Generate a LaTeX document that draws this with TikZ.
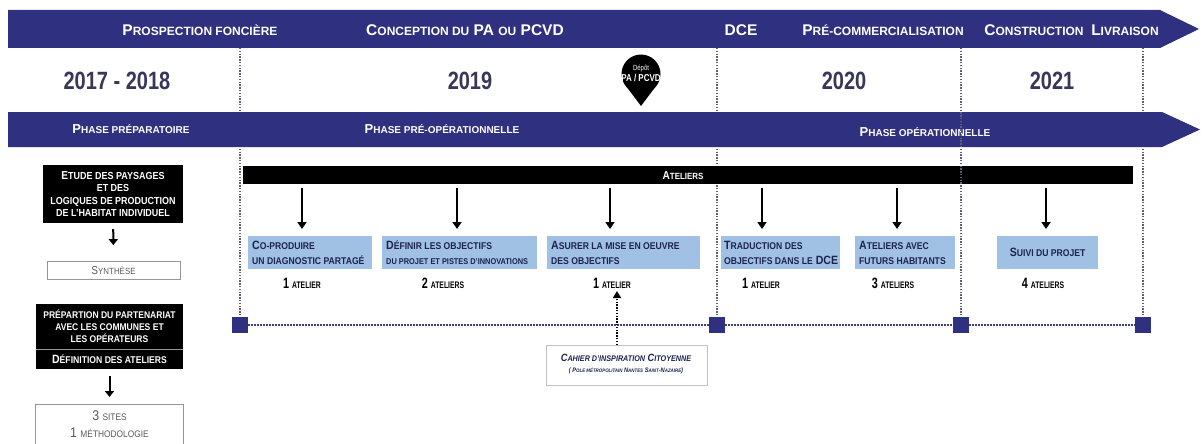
\documentclass[tikz,border=0pt]{standalone}
\usepackage{fontspec}
\setmainfont{Liberation Sans}
\newfontfamily\narrowA[FakeStretch=0.8]{Liberation Sans}
\newfontfamily\narrowB[FakeStretch=0.88]{Liberation Sans}
\newfontfamily\narrowC[FakeStretch=0.72]{Liberation Sans}
\usetikzlibrary{arrows.meta}
\definecolor{navy}{RGB}{48,48,128}
\definecolor{lblue}{RGB}{160,192,228}
\definecolor{yearc}{RGB}{55,55,90}
\definecolor{boxtxt}{RGB}{28,36,78}
\definecolor{dotc}{RGB}{95,95,120}
\definecolor{greytxt}{RGB}{90,90,90}
\definecolor{greyline}{RGB}{150,150,150}
\def\smsz{9}
\newcommand\sm[1]{{\fontsize{\smsz}{\smsz}\selectfont#1}}
\tikzset{
  bt/.style={text=white, inner sep=0, font=\bfseries\fontsize{15.5}{17}\selectfont\def\smsz{12}},
  yr/.style={text=yearc, inner sep=0, font=\narrowA\bfseries\fontsize{25}{28}\selectfont},
  ph/.style={text=white, inner sep=0, font=\bfseries\fontsize{13}{15}\selectfont\def\smsz{10}},
  vdot/.style={draw=dotc, line width=1.2pt, dash pattern=on 1.4pt off 1.4pt},
  hdot/.style={draw=navy!80!gray, line width=1.5pt, dash pattern=on 1.5pt off 1.5pt},
  sq/.style={fill=navy, minimum size=16, inner sep=0},
  darr/.style={draw=black, line width=2.2pt, -{Triangle[width=9pt,length=7pt]}},
  sarr/.style={draw=black, line width=2pt, -{Triangle[width=9pt,length=6pt]}},
  bbox/.style={fill=lblue, anchor=north west, minimum height=33, inner sep=0},
  btxt/.style={anchor=west, inner sep=0, align=left, text=boxtxt,
    font=\narrowB\bfseries\fontsize{12}{15.5}\selectfont\def\smsz{9.8}},
  cnt/.style={inner sep=0, text=black, font=\narrowC\bfseries\fontsize{15}{16}\selectfont\def\smsz{9.5}},
  blk/.style={fill=black, text=white, align=center, inner sep=0,
    font=\narrowB\bfseries\fontsize{11.5}{12.5}\selectfont\def\smsz{10.2}},
  gbox/.style={draw=greyline, line width=0.8pt, fill=white, text=greytxt, align=center, inner sep=0,
    font=\narrowB\fontsize{11.5}{14}\selectfont\def\smsz{9}},
}
\begin{document}
\begin{tikzpicture}[x=1pt,y=-1pt]
\fill[white] (0,0) rectangle (1203,444);
\useasboundingbox (0,0) rectangle (1203,444);

% squares and dotted time lines
\node[sq] (sq1) at (240,325) {};
\node[sq] (sq2) at (717,325) {};
\node[sq] (sq3) at (961,325) {};
\node[sq] (sq4) at (1143,325) {};
\coordinate (tp1) at (240,48);
\coordinate (tp2) at (717,48);
\coordinate (tp3) at (961,48);
\coordinate (tp4) at (1143,48);
\draw[vdot] (tp1) -- (sq1);
\draw[vdot] (tp2) -- (sq2);
\draw[vdot] (tp4) -- (sq4);
\draw[hdot] (sq1) -- (sq2) -- (sq3) -- (sq4);

% banners
\fill[navy] (8,10) -- (1160,10) -- (1199,29) -- (1160,48) -- (8,48) -- cycle;
\fill[navy] (8,112) -- (1162,112) -- (1200,129.5) -- (1162,147) -- (8,147) -- cycle;

\node[bt] (t1) at (200,30) {P\sm{ROSPECTION FONCIÈRE}};
\node[bt] (t2) at (465,30) {C\sm{ONCEPTION DU} PA \sm{OU} PCVD};
\node[bt] (t3) at (741,30) {DCE};
\node[bt] (t4) at (883,30) {P\sm{RÉ-COMMERCIALISATION}};
\node[bt] (t5) at (1034,30) {C\sm{ONSTRUCTION}};
\node[bt] (t6) at (1125,30) {L\sm{IVRAISON}};

\node[yr] (y1) at (117,81) {2017 - 2018};
\node[yr] (y2) at (470,81) {2019};
\node[yr] (y3) at (844,81) {2020};
\node[yr] (y4) at (1052,81) {2021};

\node[ph] (p1) at (131,129) {P\sm{HASE PRÉPARATOIRE}};
\node[ph] (p2) at (442,129) {P\sm{HASE PRÉ-OPÉRATIONNELLE}};
\node[ph] (p3) at (925,132) {P\sm{HASE OPÉRATIONNELLE}};

% pin
\fill[black] (641,74) circle (19.5);
\fill[black] (626,86) -- (641,106) -- (656,86) -- cycle;
\node[text=white, align=center, inner sep=0, font=\narrowA\bfseries\fontsize{10}{11}\selectfont] (pin) at (641,73)
  {{\mdseries\fontsize{7.5}{8}\selectfont Dépôt}\\PA / PCVD};

% ateliers bar
\node[fill=black, minimum width=890, minimum height=18, inner sep=0, anchor=north west] (bar) at (243,166) {};
\node[text=white, inner sep=0, font=\narrowB\bfseries\fontsize{11.5}{12}\selectfont\def\smsz{9}] (barl) at (683,175.5) {A\sm{TELIERS}};
\draw[vdot] (tp3) -- (sq3);

% blue boxes
\node[bbox, minimum width=124] (b1) at (248,236) {};
\node[bbox, minimum width=155] (b2) at (382,236) {};
\node[bbox, minimum width=153] (b3) at (547,236) {};
\node[bbox, minimum width=119] (b4) at (721,236) {};
\node[bbox, minimum width=100] (b5) at (855,236) {};
\node[bbox, minimum width=101] (b6) at (997,236) {};
\node[btxt] (b1t) at ([xshift=4pt]b1.west) {C\sm{O-PRODUIRE}\\\sm{UN DIAGNOSTIC PARTAGÉ}};
\node[btxt] (b2t) at ([xshift=4pt]b2.west) {D\sm{ÉFINIR LES OBJECTIFS}\\{\def\smsz{8.4}\sm{DU PROJET ET PISTES D’INNOVATIONS}}};
\node[btxt] (b3t) at ([xshift=4pt]b3.west) {A\sm{SURER LA MISE EN OEUVRE}\\\sm{DES OBJECTIFS}};
\node[btxt] (b4t) at ([xshift=3pt]b4.west) {T\sm{RADUCTION DES}\\\sm{OBJECTIFS DANS LE} DCE};
\node[btxt] (b5t) at ([xshift=4pt]b5.west) {A\sm{TELIERS AVEC}\\\sm{FUTURS HABITANTS}};
\node[btxt, anchor=center] (b6t) at (b6.center) {S\sm{UIVI DU PROJET}};

% arrows from the bar
\coordinate (a1) at (302,188);
\coordinate (a2) at (457,188);
\coordinate (a3) at (610,188);
\coordinate (a4) at (762,188);
\coordinate (a5) at (897,188);
\coordinate (a6) at (1046,188);
\draw[darr, shorten >=7pt] (a1) -- (a1 |- b1.north);
\draw[darr, shorten >=7pt] (a2) -- (a2 |- b2.north);
\draw[darr, shorten >=7pt] (a3) -- (a3 |- b3.north);
\draw[darr, shorten >=7pt] (a4) -- (a4 |- b4.north);
\draw[darr, shorten >=7pt] (a5) -- (a5 |- b5.north);
\draw[darr, shorten >=7pt] (a6) -- (a6 |- b6.north);

% counts
\node[cnt] (c1) at (302,283) {1 \sm{ATELIER}};
\node[cnt] (c2) at (443,283) {2 \sm{ATELIERS}};
\node[cnt] (c3) at (612,283) {1 \sm{ATELIER}};
\node[cnt] (c4) at (761,283) {1 \sm{ATELIER}};
\node[cnt] (c5) at (893,283) {3 \sm{ATELIERS}};
\node[cnt] (c6) at (1043,283) {4 \sm{ATELIERS}};

% cahier
\node[draw=greyline!60, line width=0.8pt, minimum width=161, minimum height=40, inner sep=0, anchor=north west] (cah) at (546,345) {};
\node[text=boxtxt, inner sep=0, font=\narrowB\bfseries\itshape\fontsize{10.5}{11}\selectfont\def\smsz{8.2}] (cah1) at (626,358)
  {C\sm{AHIER D’INSPIRATION} C\sm{ITOYENNE}};
\node[text=boxtxt, inner sep=0, font=\narrowB\bfseries\itshape\fontsize{6.5}{7}\selectfont\def\smsz{5}] (cah2) at (626,371)
  {( P\sm{OLE MÉTROPOLITAIN} N\sm{ANTES} S\sm{AINT}-N\sm{AZAIRE})};
\coordinate (cu) at (617,345);
\draw[draw=black, line width=1.8pt, dash pattern=on 1.5pt off 1.3pt, -{Triangle[width=8pt,length=7pt]}] (cu) -- (617,291);

% left column
\node[blk, minimum width=140, minimum height=58] (e1) at (113,194)
  {E\sm{TUDE DES PAYSAGES}\\\sm{ET DES}\\\sm{LOGIQUES DE PRODUCTION}\\\sm{DE L’HABITAT INDIVIDUEL}};
\node[gbox, minimum width=133, minimum height=18] (syn) at (113.5,270.5) {S\sm{YNTHÈSE}};
\draw[sarr, shorten <=6pt, shorten >=16pt] (e1) -- (syn);

\node[blk, minimum width=147, minimum height=45, anchor=north, font=\narrowB\bfseries\fontsize{9.7}{12}\selectfont] (prep) at (109.5,304)
  {PRÉPARTION DU PARTENARIAT\\AVEC LES COMMUNES ET\\LES OPÉRATEURS};
\node[blk, minimum width=147, minimum height=19, anchor=north, font=\narrowB\bfseries\fontsize{12}{12}\selectfont\def\smsz{9.8}] (defi) at (109.5,349.8)
  {D\sm{ÉFINITION DES ATELIERS}};
\draw[draw=greyline, line width=0.6pt] (prep.south west) -- (prep.south east);
\node[gbox, minimum width=148, minimum height=40, anchor=north, font=\narrowB\fontsize{14}{17}\selectfont\def\smsz{9.5}] (sites) at (109.5,404)
  {3 \sm{SITES}\\1 \sm{MÉTHODOLOGIE}};
\draw[sarr, shorten <=7pt, shorten >=7pt] (defi) -- (sites);
\end{tikzpicture}
\end{document}
